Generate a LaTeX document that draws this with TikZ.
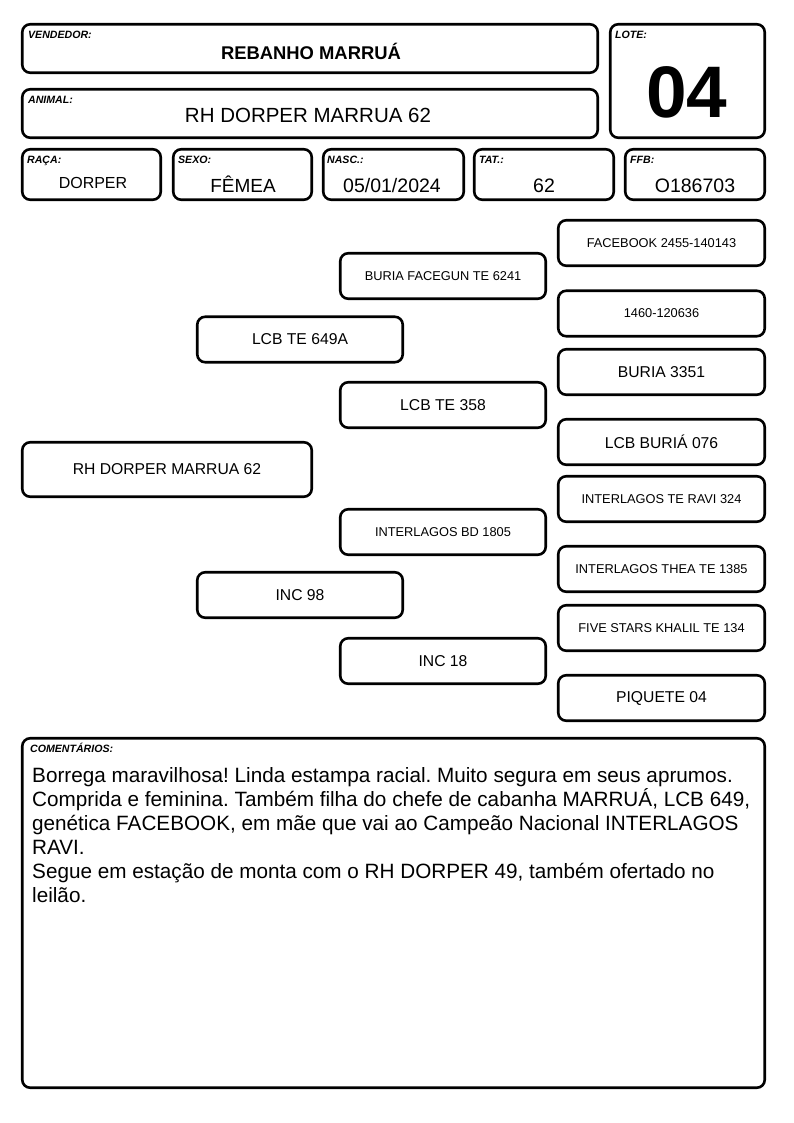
\documentclass[tikz,border=0pt]{standalone}
\usepackage{fontspec}
\setmainfont{Liberation Sans}
\usepackage{tikz}
\usetikzlibrary{positioning}
\frenchspacing

\begin{document}
\begin{tikzpicture}[x=1pt,y=-1pt]
\tikzset{box/.style={draw,line width=2.6pt,rounded corners=8pt,inner sep=0pt}}
\tikzset{campo/.style={font=\fontsize{10.6}{12}\selectfont\bfseries\itshape,anchor=base west,inner sep=0pt}}
\tikzset{valor/.style={font=\fontsize{19.5}{23}\selectfont,anchor=base,inner sep=0pt}}
\tikzset{grande/.style={box,font=\fontsize{15.7}{18}\selectfont}}
\tikzset{pequeno/.style={box,font=\fontsize{12.8}{15}\selectfont}}

\useasboundingbox (0,0) rectangle (794,1123);

% cabecalho
\node[box,minimum width=575.5,minimum height=48.5] (vendedor) at (310,48.5) {};
\node[box,minimum width=575.5,minimum height=48.5] (animal) at (310,113.5) {};
\node[box,minimum width=154.5,minimum height=113.5] (lote) at (687.5,81) {};
\node[box,minimum width=138.5,minimum height=50.5] (raca) at (91.5,174.5) {};
\node[box,minimum width=138.5,minimum height=50.5] (sexo) at (242.5,174.5) {};
\node[box,minimum width=140.5,minimum height=50.5] (nasc) at (393.5,174.5) {};
\node[box,minimum width=139.5,minimum height=50.5] (tat) at (544,174.5) {};
\node[box,minimum width=139.5,minimum height=50.5] (ffb) at (695,174.5) {};

\node[campo] (vendedorlbl) at ([shift={(7,16)}]vendedor.north west) {VENDEDOR:};
\node[campo] (animallbl) at ([shift={(7,16)}]animal.north west) {ANIMAL:};
\node[campo] (lotelbl) at ([shift={(6,16)}]lote.north west) {LOTE:};
\node[campo] (racalbl) at ([shift={(6,16)}]raca.north west) {RAÇA:};
\node[campo] (sexolbl) at ([shift={(6,16)}]sexo.north west) {SEXO:};
\node[campo] (nasclbl) at ([shift={(5,16)}]nasc.north west) {NASC.:};
\node[campo] (tatlbl) at ([shift={(6,16)}]tat.north west) {TAT.:};
\node[campo] (ffblbl) at ([shift={(6,16)}]ffb.north west) {FFB:};

\node[valor,font=\fontsize{18.4}{22}\selectfont\bfseries] (vendedortxt) at (311,59.5) {REBANHO MARRUÁ};
\node[valor,font=\fontsize{20.5}{24}\selectfont] (animaltxt) at (308,123) {RH DORPER MARRUA 62};
\node[valor,font=\fontsize{73}{80}\selectfont\bfseries] (lotetxt) at (687,118) {04};
\node[valor,font=\fontsize{16}{19}\selectfont] (racatxt) at (93,188.5) {DORPER};
\node[valor,font=\fontsize{19}{23}\selectfont] (sexotxt) at (243,193) {FÊMEA};
\node[valor] (nasctxt) at (392,193) {05/01/2024};
\node[valor] (tattxt) at (544,193) {62};
\node[valor] (ffbtxt) at (695,193) {O186703};

% genealogia
\node[grande,minimum width=289.5,minimum height=54.5] (g1) at (167,469.5) {RH DORPER MARRUA 62};

\node[grande,minimum width=205.5,minimum height=45.5] (pai) at (300,339.5) {LCB TE 649A};
\node[grande,minimum width=205.5,minimum height=45.5] (mae) at (300,595) {INC 98};

\node[pequeno,minimum width=205.5,minimum height=45.5] (avo1) at (443,276) {BURIA FACEGUN TE 6241};
\node[grande,minimum width=205.5,minimum height=45.5] (avo2) at (443,405) {LCB TE 358};
\node[pequeno,minimum width=205.5,minimum height=45.5] (avo3) at (443,532) {INTERLAGOS BD 1805};
\node[grande,minimum width=205.5,minimum height=45.5] (avo4) at (443,661) {INC 18};

\foreach \nome/\y/\estilo/\texto in {
  bis1/243/pequeno/FACEBOOK 2455-140143,
  bis2/313.5/pequeno/1460-120636,
  bis3/372/grande/BURIA 3351,
  bis4/442/grande/LCB BURIÁ 076,
  bis5/499/pequeno/INTERLAGOS TE RAVI 324,
  bis6/569/pequeno/INTERLAGOS THEA TE 1385,
  bis7/628/pequeno/FIVE STARS KHALIL TE 134,
  bis8/698/grande/PIQUETE 04}
  \node[\estilo,minimum width=206.5,minimum height=45.5] (\nome) at (661.5,\y) {\texto};

% comentarios
\node[box,minimum width=742.5,minimum height=349.5] (coment) at (393.5,913) {};
\node[campo] (comentlbl) at ([shift={(9,16)}]coment.north west) {COMENTÁRIOS:};
\node[anchor=north west,inner sep=0pt,align=left,font=\fontsize{20.7}{24}\selectfont] (comenttxt) at (32,767) {Borrega maravilhosa! Linda estampa racial. Muito segura em seus aprumos.\\
Comprida e feminina. Também filha do chefe de cabanha MARRUÁ, LCB 649,\\
genética FACEBOOK, em mãe que vai ao Campeão Nacional INTERLAGOS\\
RAVI.\\
Segue em estação de monta com o RH DORPER 49, também ofertado no\\
leilão.};

\end{tikzpicture}
\end{document}
